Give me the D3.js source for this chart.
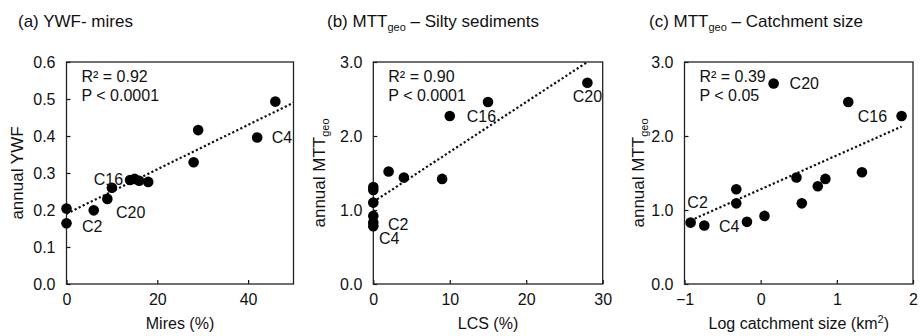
<!DOCTYPE html>
<html>
<head>
<meta charset="utf-8">
<script src="https://cdn.jsdelivr.net/npm/d3@7"></script>
<style>
  body { margin: 0; background: #fff; }
  svg text { font-family: Arial, "Liberation Sans", sans-serif; fill: #111; }
</style>
</head>
<body>
<svg id="chart" width="920" height="336"></svg>
<script>
// ----------------------------
// Data
// ----------------------------
// (a) YWF vs mires
const miresPct = [0, 0, 6, 9, 10, 14, 15, 16, 18, 28, 29, 42, 46];
const ywf      = [0.204, 0.164, 0.199, 0.230, 0.260, 0.281, 0.284, 0.279, 0.276, 0.329, 0.416, 0.396, 0.493];
const ywfNames = ["", "C2", "", "C20", "", "C16", "", "", "", "", "", "C4", ""];
const ywfTrend = [0.19, 0.006];          // intercept, slope
const ywfTrendX = [0, 50];
const ywfStats = ["R² = 0.92", "P < 0.0001"];

// (b) MTTgeo vs silty sediments (LCS)
const lcsPct   = [0, 0, 0, 0, 0, 0, 2, 4, 9, 10, 15, 28];
const mttLcs   = [1.31, 1.27, 1.10, 0.92, 0.83, 0.78, 1.52, 1.44, 1.42, 2.27, 2.46, 2.72];
const lcsNames = ["", "", "", "", "C2", "C4", "", "", "", "C16", "", "C20"];
const lcsTrend = [1.11, 0.0675];
const lcsTrendX = [0, 28];
const lcsStats = ["R² = 0.90", "P < 0.0001"];

// (c) MTTgeo vs log catchment size
const logArea   = [-0.92, -0.74, -0.32, -0.32, -0.18, 0.05, 0.17, 0.47, 0.54, 0.75, 0.85, 1.15, 1.33, 1.85];
const mttArea   = [0.83, 0.79, 1.28, 1.09, 0.84, 0.92, 2.71, 1.44, 1.09, 1.32, 1.42, 2.46, 1.51, 2.27];
const areaNames = ["C2", "C4", "", "", "", "", "C20", "", "", "", "", "", "", "C16"];
const areaTrend = [1.28, 0.458];
const areaTrendX = [-0.92, 1.85];
const areaStats = ["R² = 0.39", "P < 0.05"];

// tick values
const ywfTicks = [0, 0.1, 0.2, 0.3, 0.4, 0.5, 0.6];
const mttTicks = [0, 1, 2, 3];
const miresTicks = [0, 20, 40];
const lcsTicks = [0, 10, 20, 30];
const areaTicks = [-1, 0, 1, 2];

// ----------------------------
// Layout
// ----------------------------
const svg = d3.select("#chart");
const plotTop = 62, plotBottom = 284;
const ink = "#111";

function addText(sel, x, y, parts, opts = {}) {
  const t = sel.append("text")
    .attr("x", x).attr("y", y)
    .attr("font-size", opts.size || 16)
    .attr("text-anchor", opts.anchor || "start");
  if (opts.rotate) t.attr("transform", `rotate(-90,${x},${y})`);
  parts.forEach(p => {
    if (typeof p === "string") t.append("tspan").text(p);
    else t.append("tspan").attr("font-size", p.size).attr("dy", p.dy).text(p.text);
  });
  return t;
}

function drawPanel(cfg) {
  const w = cfg.right - cfg.left, h = plotBottom - plotTop;
  const g = svg.append("g").attr("transform", `translate(${cfg.left},${plotTop})`);

  const x = d3.scaleLinear().domain(cfg.xDomain).range([0, w]);
  const y = d3.scaleLinear().domain(cfg.yDomain).range([h, 0]);

  const xAxis = g.append("g").attr("transform", `translate(0,${h})`)
    .call(d3.axisBottom(x).tickValues(cfg.xTicks).tickFormat(d3.format("d"))
      .tickSizeInner(-4).tickSizeOuter(0).tickPadding(10));
  const yAxis = g.append("g")
    .call(d3.axisLeft(y).tickValues(cfg.yTicks).tickFormat(d3.format(".1f"))
      .tickSizeInner(-4).tickSizeOuter(0).tickPadding(11));
  [xAxis, yAxis].forEach(a => {
    a.select(".domain").remove();
    a.selectAll("line").attr("stroke", ink).attr("stroke-width", 1.2);
    a.selectAll("text").attr("font-size", 16).attr("fill", ink)
      .attr("font-family", "Arial, 'Liberation Sans', sans-serif");
  });

  g.append("rect").attr("width", w).attr("height", h)
    .attr("fill", "none").attr("stroke", "#222").attr("stroke-width", 1.3);

  // trend line
  const [b0, b1] = cfg.trend;
  g.append("path")
    .datum(cfg.trendX)
    .attr("fill", "none").attr("stroke", ink)
    .attr("stroke-width", 2.2).attr("stroke-dasharray", "2.2,2.3")
    .attr("d", d3.line().x(d => x(d)).y(d => y(b0 + b1 * d)));

  // points
  g.selectAll("circle").data(cfg.xs).join("circle")
    .attr("cx", d => x(d))
    .attr("cy", (d, i) => y(cfg.ys[i]))
    .attr("r", 5.3).attr("fill", "#000");

  // point names
  cfg.names.forEach((n, i) => {
    if (!n) return;
    const o = cfg.nameOffsets[n];
    addText(g, x(cfg.xs[i]) + o[0], y(cfg.ys[i]) + o[1] + 5.5, [n], { anchor: o[2] || "start" });
  });

  // stats
  addText(g, 15, 20, [cfg.stats[0]]);
  addText(g, 15, 39, [cfg.stats[1]]);

  // titles
  addText(svg, cfg.titleX, 27, cfg.title, { size: 17 });
  addText(svg, (cfg.left + cfg.right) / 2, 329, cfg.xLabel, { anchor: "middle" });
  addText(svg, cfg.yLabelX, (plotTop + plotBottom) / 2, cfg.yLabel, { anchor: "middle", rotate: true, size: 17 });
}

const geo = { text: "geo", size: 11, dy: 4 };

drawPanel({
  left: 66.5, right: 293.5, xDomain: [0, 50], yDomain: [0, 0.6],
  xTicks: miresTicks, yTicks: ywfTicks,
  xs: miresPct, ys: ywf, names: ywfNames,
  nameOffsets: { C2: [15.5, 3], C20: [8.6, 14], C16: [-7, -1, "end"], C4: [14.5, 0] },
  trend: ywfTrend, trendX: ywfTrendX, stats: ywfStats,
  title: ["(a) YWF- mires"], titleX: 18,
  xLabel: ["Mires (%)"], yLabel: ["annual YWF"], yLabelX: 23
});

drawPanel({
  left: 373.3, right: 602.7, xDomain: [0, 30], yDomain: [0, 3],
  xTicks: lcsTicks, yTicks: mttTicks,
  xs: lcsPct, ys: mttLcs, names: lcsNames,
  nameOffsets: { C2: [14.7, 1.5], C4: [5.7, 12], C16: [17, 0], C20: [0, 14, "middle"] },
  trend: lcsTrend, trendX: lcsTrendX, stats: lcsStats,
  title: ["(b) MTT", geo, { text: " – Silty sediments", size: 17, dy: -4 }], titleX: 327,
  xLabel: ["LCS (%)"], yLabel: ["annual MTT", geo], yLabelX: 325
});

drawPanel({
  left: 684.5, right: 913, xDomain: [-1, 2], yDomain: [0, 3],
  xTicks: areaTicks, yTicks: mttTicks,
  xs: logArea, ys: mttArea, names: areaNames,
  nameOffsets: { C2: [7, -19.6, "middle"], C4: [14.6, 1], C20: [16, 0], C16: [-14.5, 0.7, "end"] },
  trend: areaTrend, trendX: areaTrendX, stats: areaStats,
  title: ["(c) MTT", geo, { text: " – Catchment size", size: 17, dy: -4 }], titleX: 649,
  xLabel: ["Log catchment size (km", { text: "2", size: 11, dy: -6 }, { text: ")", size: 16, dy: 6 }],
  yLabel: ["annual MTT", geo], yLabelX: 644
});
</script>
</body>
</html>
